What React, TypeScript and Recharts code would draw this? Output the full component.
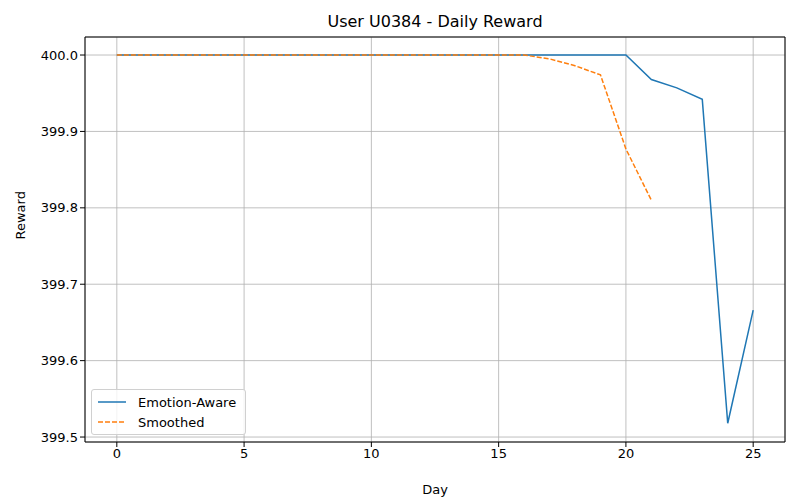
import React from "react";
import {
  LineChart,
  Line,
  XAxis,
  YAxis,
  CartesianGrid,
  ReferenceLine,
} from "recharts";

const days = [0, 1, 2, 3, 4, 5, 6, 7, 8, 9, 10, 11, 12, 13, 14, 15, 16, 17, 18, 19, 20, 21, 22, 23, 24, 25];
const emotionAware = [
  400, 400, 400, 400, 400, 400, 400, 400, 400, 400, 400, 400, 400, 400, 400, 400, 400, 400, 400, 400, 400,
  399.968, 399.957, 399.942, 399.518, 399.666,
];
const smoothed = [
  400, 400, 400, 400, 400, 400, 400, 400, 400, 400, 400, 400, 400, 400, 400, 400, 400, 399.995, 399.986,
  399.974, 399.877, 399.81, null, null, null, null,
];
const xTicks = [0, 5, 10, 15, 20, 25];
const yTicks = [399.5, 399.6, 399.7, 399.8, 399.9, 400.0];

const data = days.map((d, i) => ({ day: d, ea: emotionAware[i], sm: smoothed[i] }));

const X_DOMAIN: [number, number] = [-1.25, 26.25];
const Y_DOMAIN: [number, number] = [399.4935, 400.0236];
const font = "DejaVu Sans, sans-serif";

function LegendBox() {
  const row = (color: string, dash: string | undefined, label: string) => (
    <div style={{ display: "flex", alignItems: "center", height: 20 }}>
      <svg width={30} height={10} style={{ marginRight: 10 }}>
        <line x1={0} y1={5} x2={28} y2={5} stroke={color} strokeWidth={1.5} strokeDasharray={dash} />
      </svg>
      <span>{label}</span>
    </div>
  );
  return (
    <div
      style={{
        position: "absolute",
        left: 91,
        top: 389,
        border: "1px solid #d0d0d0",
        borderRadius: 3,
        background: "rgba(255,255,255,0.8)",
        padding: "2px 8px 2px 6px",
        fontFamily: font,
        fontSize: 13,
        width: 139,
      }}
    >
      {row("#1f77b4", undefined, "Emotion-Aware")}
      {row("#ff7f0e", "5 2", "Smoothed")}
    </div>
  );
}

export default function App() {
  return (
    <div style={{ position: "absolute", left: 0, top: 0, width: 800, height: 500, background: "#fff" }}>
      <div
        style={{
          position: "absolute",
          left: 85,
          width: 700,
          top: 12,
          textAlign: "center",
          fontFamily: font,
          fontSize: 16,
        }}
      >
        User U0384 - Daily Reward
      </div>
      <LineChart width={800} height={500} data={data} margin={{ top: 37, right: 15, bottom: 28, left: 0 }}>
        <CartesianGrid stroke="#b0b0b0" strokeWidth={0.8} />
        <XAxis
          dataKey="day"
          type="number"
          domain={X_DOMAIN}
          ticks={xTicks}
          height={30}
          stroke="#000"
          tick={{ fill: "#000", fontSize: 13, fontFamily: font }}
          tickSize={5}
          label={{ value: "Day", position: "insideBottom", offset: -22, fill: "#000", fontSize: 13, fontFamily: font }}
        />
        <YAxis
          type="number"
          domain={Y_DOMAIN}
          ticks={yTicks}
          width={85}
          stroke="#000"
          tickFormatter={(v: number) => v.toFixed(1)}
          tick={{ fill: "#000", fontSize: 13, fontFamily: font }}
          tickSize={5}
          label={{
            value: "Reward",
            angle: -90,
            position: "insideLeft",
            offset: 20,
            fill: "#000",
            fontSize: 13,
            fontFamily: font,
          }}
        />
        <ReferenceLine x={X_DOMAIN[1]} stroke="#000" strokeWidth={1} />
        <ReferenceLine y={Y_DOMAIN[1]} stroke="#000" strokeWidth={1} />
        <Line dataKey="ea" stroke="#1f77b4" strokeWidth={1.5} dot={false} isAnimationActive={false} />
        <Line
          dataKey="sm"
          stroke="#ff7f0e"
          strokeWidth={1.5}
          strokeDasharray="5 2"
          dot={false}
          connectNulls={false}
          isAnimationActive={false}
        />
      </LineChart>
      <LegendBox />
    </div>
  );
}
